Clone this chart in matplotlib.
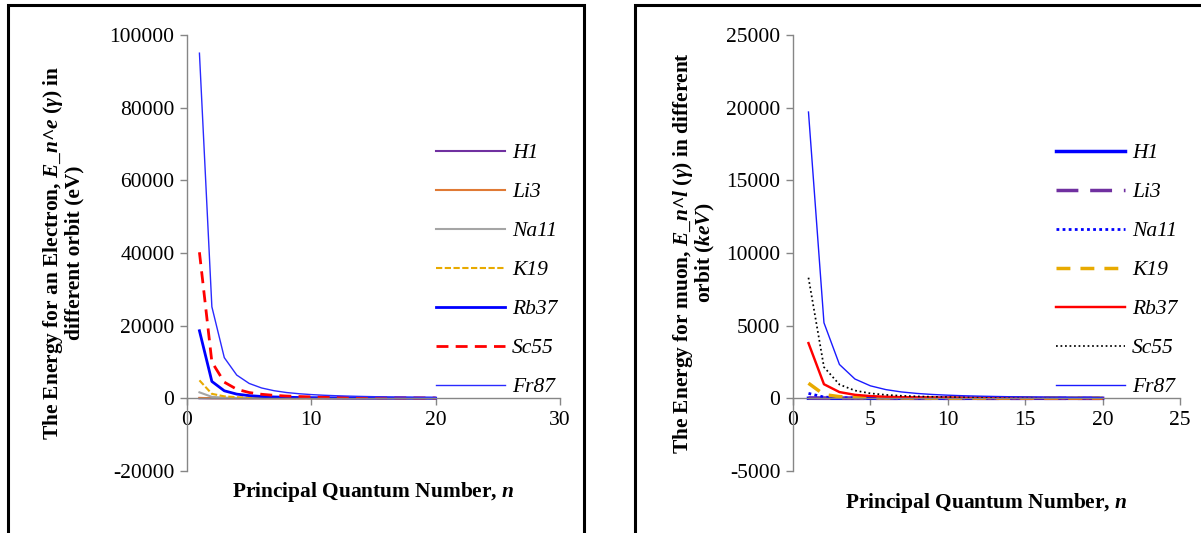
import matplotlib
matplotlib.use("Agg")
import matplotlib.pyplot as plt
from matplotlib.patches import Rectangle

plt.rcParams['font.family'] = ['Liberation Serif', 'DejaVu Serif']
plt.rcParams['axes.unicode_minus'] = False
plt.rcParams['mathtext.fontset'] = 'custom'
plt.rcParams['mathtext.rm'] = 'Liberation Serif'
plt.rcParams['mathtext.it'] = 'Liberation Serif:italic'
plt.rcParams['mathtext.bf'] = 'Liberation Serif:bold'
plt.rcParams['mathtext.bfit'] = 'Liberation Serif:bold:italic'

# ---------------- data ----------------
n = list(range(1, 21))
labels = ["H1", "Li3", "Na11", "K19", "Rb37", "Sc55", "Fr87"]

# electron energies (eV)
e_H1 = [13.6, 3.4, 1.5, 0.85, 0.54, 0.38, 0.28, 0.21, 0.17, 0.14, 0.11, 0.09, 0.08, 0.07, 0.06, 0.05, 0.05, 0.04, 0.04, 0.03]
e_Li3 = [122, 31, 14, 8, 5, 3.4, 2.5, 1.9, 1.5, 1.2, 1.0, 0.85, 0.72, 0.62, 0.54, 0.48, 0.42, 0.38, 0.34, 0.31]
e_Na11 = [1650, 410, 183, 103, 66, 46, 34, 26, 20, 16.5, 13.6, 11.5, 9.8, 8.4, 7.3, 6.4, 5.7, 5.1, 4.6, 4.1]
e_K19 = [4950, 1240, 550, 310, 198, 138, 101, 77, 61, 50, 41, 34, 29, 25, 22, 19, 17, 15, 14, 12]
e_Rb37 = [18600, 4650, 2070, 1160, 745, 517, 380, 291, 230, 186, 154, 129, 110, 95, 83, 73, 64, 57, 52, 47]
e_Sc55 = [40200, 10000, 4450, 2500, 1600, 1115, 820, 628, 496, 402, 332, 279, 238, 205, 179, 157, 139, 124, 111, 100]
e_Fr87 = [95000, 25200, 11200, 6400, 4100, 2850, 2100, 1600, 1270, 1030, 850, 715, 610, 525, 457, 402, 356, 318, 285, 257]

# muon energies (keV)
m_H1 = [2.8, 0.70, 0.31, 0.18, 0.11, 0.078, 0.057, 0.044, 0.035, 0.028, 0.023, 0.019, 0.017, 0.014, 0.012, 0.011, 0.010, 0.009, 0.008, 0.007]
m_Li3 = [25, 6.3, 2.8, 1.6, 1.0, 0.70, 0.51, 0.39, 0.31, 0.25, 0.21, 0.17, 0.15, 0.13, 0.11, 0.10, 0.09, 0.08, 0.07, 0.06]
m_Na11 = [340, 85, 38, 21, 13.6, 9.4, 6.9, 5.3, 4.2, 3.4, 2.8, 2.4, 2.0, 1.7, 1.5, 1.3, 1.2, 1.05, 0.94, 0.85]
m_K19 = [1040, 260, 115, 65, 41.6, 28.9, 21.2, 16.2, 12.8, 10.4, 8.6, 7.2, 6.2, 5.3, 4.6, 4.1, 3.6, 3.2, 2.9, 2.6]
m_Rb37 = [3800, 970, 430, 242, 155, 108, 79, 61, 48, 39, 32, 27, 23, 20, 17, 15, 13.4, 12, 10.7, 9.7]
m_Sc55 = [8300, 2150, 950, 535, 342, 238, 175, 134, 106, 86, 71, 60, 51, 44, 38, 33, 30, 26.5, 23.8, 21.5]
m_Fr87 = [19700, 5200, 2330, 1330, 860, 600, 440, 337, 266, 216, 178, 150, 128, 110, 96, 84, 75, 67, 60, 54]

left_xticks = [0, 10, 20, 30]
left_yticks = [-20000, 0, 20000, 40000, 60000, 80000, 100000]
right_xticks = [0, 5, 10, 15, 20, 25]
right_yticks = [-5000, 0, 5000, 10000, 15000, 20000, 25000]

# ---------------- styles ----------------
left_styles = [
    dict(color="#7030A0", lw=1.5, ls="-"),
    dict(color="#E07A35", lw=1.5, ls="-"),
    dict(color="#A5A5A5", lw=1.5, ls="-"),
    dict(color="#E8AA00", lw=1.5, ls=(0, (3, 1.2))),
    dict(color="#0000FF", lw=2.0, ls="-"),
    dict(color="#FF0000", lw=2.0, ls=(0, (4.3, 2.6))),
    dict(color="#2A2AFF", lw=1.0, ls="-"),
]
right_styles = [
    dict(color="#0000FF", lw=2.5, ls="-"),
    dict(color="#7030A0", lw=2.5, ls=(0, (6.3, 3.4))),
    dict(color="#0000FF", lw=2.0, ls=(0, (1, 1.2))),
    dict(color="#E8AA00", lw=2.5, ls=(0, (4, 2.9))),
    dict(color="#FF0000", lw=1.75, ls="-"),
    dict(color="#000000", lw=1.25, ls=(0, (1, 1.6))),
    dict(color="#1A1AFF", lw=1.0, ls="-"),
]

W, H = 1201, 533
fig = plt.figure(figsize=(W / 100, H / 100), dpi=100)

# panel frames
fig.patches.append(Rectangle((8 / W, -0.1), (584 - 8) / W, 1.1 - 5.5 / H,
                             transform=fig.transFigure, fill=False, ec="black", lw=2.2))
fig.patches.append(Rectangle((635 / W, -0.1), 0.6, 1.1 - 5.5 / H,
                             transform=fig.transFigure, fill=False, ec="black", lw=2.2))

ax1 = fig.add_axes([187 / W, 1 - 471 / H, 373 / W, 436 / H])
ax2 = fig.add_axes([793 / W, 1 - 471 / H, 387 / W, 436 / H])

spine_c = "#868686"
for ax, xt, yt in [(ax1, left_xticks, left_yticks), (ax2, right_xticks, right_yticks)]:
    ax.set_xlim(xt[0], xt[-1])
    ax.set_ylim(yt[0], yt[-1])
    ax.set_xticks(xt)
    ax.set_yticks(yt)
    ax.spines['top'].set_visible(False)
    ax.spines['right'].set_visible(False)
    ax.spines['bottom'].set_position(('data', 0))
    for s in ['left', 'bottom']:
        ax.spines[s].set_color(spine_c)
        ax.spines[s].set_linewidth(1.0)
    ax.tick_params(axis='both', direction='out', length=5, width=1.0, color=spine_c,
                   labelsize=15.5, pad=4)
    ax.patch.set_alpha(0)

left_series = [e_H1, e_Li3, e_Na11, e_K19, e_Rb37, e_Sc55, e_Fr87]
right_series = [m_H1, m_Li3, m_Na11, m_K19, m_Rb37, m_Sc55, m_Fr87]
for lab, ys, st in zip(labels, left_series, left_styles):
    ax1.plot(n, ys, label=lab, color=st['color'], lw=st['lw'], ls=st['ls'], clip_on=False)
for lab, ys, st in zip(labels, right_series, right_styles):
    ax2.plot(n, ys, label=lab, color=st['color'], lw=st['lw'], ls=st['ls'], clip_on=False)

for ax, bx in [(ax1, (436 - 187) / 373), (ax2, (1056 - 793) / 387)]:
    ax.legend(loc='upper left', bbox_to_anchor=(bx, (471 - 143) / 436),
              frameon=False, prop=dict(family='Liberation Serif', style='italic', size=15.5),
              handlelength=3.2, handletextpad=0.33, labelspacing=0.88, borderpad=0.0,
              borderaxespad=0.0)

ax1.text(0.5, (471 - 492) / 436, r"Principal Quantum Number, $\mathbfit{n}$",
         transform=ax1.transAxes, ha='center', va='center', fontsize=15.4, fontweight='bold')
ax2.text(0.5, (471 - 503) / 436, r"Principal Quantum Number, $\mathbfit{n}$",
         transform=ax2.transAxes, ha='center', va='center', fontsize=15.4, fontweight='bold')

ax1.text((63 - 187) / 373, 0.5,
         "The Energy for an Electron, $\\mathbfit{E}$_$\\mathbfit{n}$^$\\mathbfit{e}$ ($\\mathbfit{\\gamma}$) in\ndifferent orbit (eV)",
         transform=ax1.transAxes, rotation=90, ha='center', va='center',
         multialignment='center', fontsize=15.4, fontweight='bold', linespacing=0.95)
ax2.text((694 - 793) / 387, 0.5,
         "The Energy for muon, $\\mathbfit{E}$_$\\mathbfit{n}$^$\\mathbfit{l}$ ($\\mathbfit{\\gamma}$) in different\norbit ($\\mathbfit{keV}$)",
         transform=ax2.transAxes, rotation=90, ha='center', va='center',
         multialignment='center', fontsize=15.4, fontweight='bold', linespacing=0.95)

fig.savefig("out.png", dpi=100)
